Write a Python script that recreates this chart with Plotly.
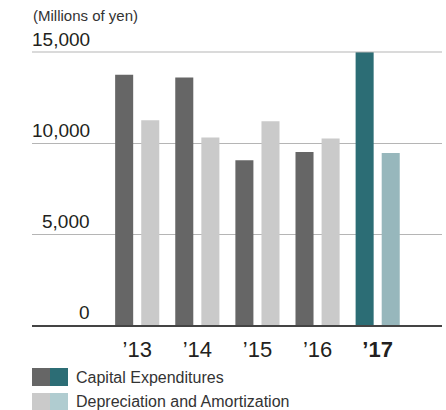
import plotly.graph_objects as go

# Fiscal years and values (millions of yen)
years = ["’13", "’14", "’15", "’16", "’17"]
year_labels = ["’13", "’14", "’15", "’16", "<b>’17</b>"]
capex = [13750, 13600, 9050, 9500, 15000]
depreciation = [11250, 10300, 11200, 10250, 9450]
y_ticks = [0, 5000, 10000, 15000]
y_tick_text = ["0", "5,000", "10,000", "15,000"]

W, H = 446, 410
L, R, T, B = 32, 4, 52, 85
plot_w = W - L - R
plot_h = H - T - B

FONT = "Liberation Sans, Arial, Helvetica, sans-serif"
DARK = "#666666"
TEAL = "#2c6d75"
LIGHT = "#cacaca"
LIGHT_TEAL = "#97b7bc"
GRID = "#b5b5b5"


def px(x):
    return (x - L) / plot_w


def py(y):
    return (H - B - y) / plot_h


capex_colors = [DARK] * (len(years) - 1) + [TEAL]
dep_colors = [LIGHT] * (len(years) - 1) + [LIGHT_TEAL]

fig = go.Figure()
fig.add_trace(go.Bar(x=years, y=capex, marker=dict(color=capex_colors, line_width=0),
                     width=0.3, offset=-0.367, name="Capital Expenditures"))
fig.add_trace(go.Bar(x=years, y=depreciation, marker=dict(color=dep_colors, line_width=0),
                     width=0.3, offset=0.067, name="Depreciation and Amortization"))

annotations = []
shapes = []
# Y tick labels sit right-aligned just above their gridlines
for v, t in zip(y_ticks, y_tick_text):
    annotations.append(dict(x=px(92), y=v, xref="paper", yref="y", text=t,
                            showarrow=False, xanchor="right", yanchor="bottom",
                            font=dict(family=FONT, size=19, color="#231f20")))

# top gridline along the upper edge of the plot area
shapes.append(dict(type="line", xref="paper", yref="paper", x0=0, x1=1,
                   y0=1, y1=1, layer="above",
                   line=dict(color=GRID, width=1)))

annotations.append(dict(x=px(31), y=py(15), xref="paper", yref="paper",
                        text="(Millions of yen)", showarrow=False,
                        xanchor="left", yanchor="middle",
                        font=dict(family=FONT, size=15, color="#333333")))

legend_rows = [("Capital Expenditures", DARK, TEAL, 368, 386),
               ("Depreciation and Amortization", LIGHT, "#b0ccd0", 393, 411)]
for text, c1, c2, y0, y1 in legend_rows:
    shapes.append(dict(type="rect", xref="paper", yref="paper", x0=px(32), x1=px(50),
                       y0=py(y1), y1=py(y0), fillcolor=c1, line_width=0))
    shapes.append(dict(type="rect", xref="paper", yref="paper", x0=px(50), x1=px(68),
                       y0=py(y1), y1=py(y0), fillcolor=c2, line_width=0))
    annotations.append(dict(x=px(74), y=py((y0 + y1) / 2), xref="paper", yref="paper",
                            text=text, showarrow=False, xanchor="left", yanchor="middle",
                            font=dict(family=FONT, size=16, color="#333333")))

fig.update_layout(
    width=W, height=H,
    margin=dict(l=L, r=R, t=T, b=B),
    paper_bgcolor="white", plot_bgcolor="white",
    showlegend=False,
    barmode="overlay",
    annotations=annotations,
    shapes=shapes,
    xaxis=dict(type="category", range=[-1.75, 5.07], tickmode="array",
               tickvals=years, ticktext=year_labels, showgrid=False,
               showline=True, linecolor="#444444", linewidth=2,
               ticks="", ticklabelstandoff=4,
               tickfont=dict(family=FONT, size=22, color="#231f20"),
               fixedrange=True),
    yaxis=dict(range=[0, 15000], tickvals=y_ticks, showticklabels=False,
               showgrid=True, gridcolor=GRID, gridwidth=1,
               zeroline=False, showline=False, fixedrange=True),
)

fig.write_html("out.html", config={"displayModeBar": False})
